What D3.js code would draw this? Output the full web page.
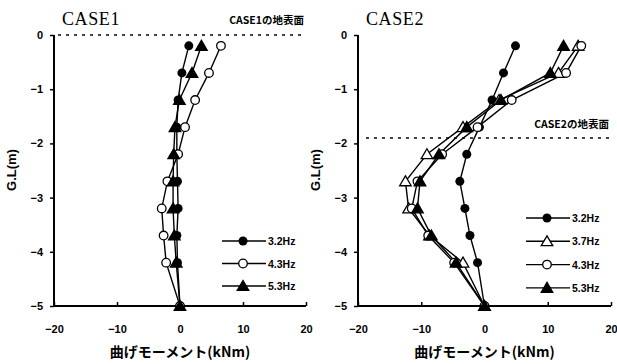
<!DOCTYPE html>
<html><head><meta charset="utf-8">
<script src="https://cdn.jsdelivr.net/npm/d3@7"></script>
<style>body{margin:0;background:#fff}svg{display:block}</style>
</head><body><svg id="c" width="617" height="364"></svg>
<script>
const depths = [-0.2,-0.7,-1.2,-1.7,-2.2,-2.7,-3.2,-3.7,-4.2,-5.0];
const case1_32 = [1.4,0.3,-0.3,-0.5,-0.5,-0.4,-0.3,-0.5,-0.4,0];
const case1_43 = [6.5,4.6,2.4,0.8,-0.3,-2.0,-2.9,-2.6,-2.2,0];
const case1_53 = [3.4,1.9,-0.1,-0.8,-1.0,-1.1,-1.1,-0.9,-0.6,0];
const case2_32 = [4.9,3.0,1.2,-0.8,-2.8,-3.9,-3.1,-2.3,-1.1,0];
const case2_37 = [14.8,11.7,2.3,-3.4,-9.1,-12.5,-12.0,-8.7,-3.4,0];
const case2_43 = [15.3,12.9,4.3,-1.1,-6.7,-10.6,-11.5,-8.9,-4.8,0];
const case2_53 = [12.5,10.4,2.6,-2.8,-7.2,-10.2,-10.6,-8.4,-4.5,0];
const xTicks = [-20,-10,0,10,20];
const yTicks = [0,-1,-2,-3,-4,-5];
const labels1 = ["3.2Hz","4.3Hz","5.3Hz"];
const labels2 = ["3.2Hz","3.7Hz","4.3Hz","5.3Hz"];
const xTitle = "曲げモーメント(kNm)";
const yTitle = "G.L(m)";

const svg = d3.select("#c");
const sans = "'Liberation Sans', Arial, sans-serif";
const jp = "'Noto Sans CJK JP', sans-serif";

function marker(g, type, x, y) {
  if (type === "fc") g.append("circle").attr("cx",x).attr("cy",y).attr("r",4.5).attr("fill","#000");
  else if (type === "oc") g.append("circle").attr("cx",x).attr("cy",y).attr("r",4.3).attr("fill","#fff").attr("stroke","#000").attr("stroke-width",1.3);
  else {
    const s = 5.5;
    const p = `M${x},${y-s}L${x+s*1.05},${y+s*0.8}L${x-s*1.05},${y+s*0.8}Z`;
    g.append("path").attr("d",p).attr("fill", type==="ft"?"#000":"#fff").attr("stroke","#000").attr("stroke-width",1.3);
  }
}

function panel(opt) {
  const x = d3.scaleLinear().domain([-20,20]).range([opt.x0, opt.x1]);
  const y = d3.scaleLinear().domain([0,-5]).range([35,306]);
  const g = svg.append("g");
  const ax = g.append("g").attr("transform",`translate(0,306)`)
    .call(d3.axisBottom(x).tickValues(xTicks).tickSize(-4).tickPadding(19).tickFormat(d=>d<0?"\u2212"+(-d):d));
  const ay = g.append("g").attr("transform",`translate(${opt.x0},0)`)
    .call(d3.axisLeft(y).tickValues(yTicks).tickSize(4).tickPadding(7).tickFormat(d=>d<0?"\u2212"+(-d):d));
  [ax,ay].forEach(a=>{
    a.select(".domain").attr("stroke","#000").attr("stroke-width",2);
    a.selectAll(".tick line").attr("stroke","#000").attr("stroke-width",1.5);
    a.selectAll("text").attr("font-family",sans).attr("font-weight","bold").attr("font-size",11).attr("fill","#000");
  });
  ax.select(".domain").attr("d",`M${opt.x0},0H${opt.x1}`);
  ay.select(".domain").attr("d",`M0,35V306`);
  g.append("line").attr("x1",opt.gx0).attr("x2",opt.x1).attr("y1",y(opt.ground)).attr("y2",y(opt.ground))
    .attr("stroke","#000").attr("stroke-width",1.5).attr("stroke-dasharray","3,5");
  g.append("text").attr("x",opt.x1-2).attr("y",y(opt.ground)-opt.gdy).attr("text-anchor","end")
    .attr("font-family",jp).attr("font-weight","bold").attr("font-size",10.5).text(opt.gtext);
  g.append("text").attr("x",opt.x0+8).attr("y",25).attr("font-family","'Liberation Serif', serif")
    .attr("font-size",18).attr("letter-spacing",0.6).text(opt.title);
  g.append("text").attr("x",(opt.x0+opt.x1)/2).attr("y",357).attr("text-anchor","middle")
    .attr("font-family",jp).attr("font-weight","bold").attr("font-size",14).text(xTitle);
  g.append("text").attr("transform",`translate(${opt.x0-38},170) rotate(-90)`).attr("text-anchor","middle")
    .attr("font-family",sans).attr("font-weight","bold").attr("font-size",13).text(yTitle);
  const line = d3.line().x(d=>x(d[0])).y(d=>y(d[1]));
  opt.series.forEach(s=>{
    const pts = s.v.map((v,i)=>[v,depths[i]]);
    g.append("path").attr("d",line(pts)).attr("fill","none").attr("stroke","#000").attr("stroke-width",1.4);
  });
  opt.series.forEach(s=>{
    s.v.forEach((v,i)=>marker(g,s.m,x(v),y(depths[i])));
  });
  opt.series.forEach((s,i)=>{
    const ly = opt.ly0 + i*opt.ldy;
    g.append("line").attr("x1",opt.lx).attr("x2",opt.lx+44).attr("y1",ly).attr("y2",ly).attr("stroke","#000").attr("stroke-width",1.4);
    marker(g,s.m,opt.lx+21,ly);
    g.append("text").attr("x",opt.lx+46).attr("y",ly+4).attr("font-family",sans).attr("font-weight","bold")
      .attr("font-size",10.5).text(s.label);
  });
}

panel({x0:54,x1:306,gx0:58,ground:0,gdy:11,gtext:"CASE1の地表面",title:"CASE1",lx:222,ly0:241,ldy:22.5,
  series:[{v:case1_32,m:"fc",label:labels1[0]},{v:case1_43,m:"oc",label:labels1[1]},{v:case1_53,m:"ft",label:labels1[2]}]});
panel({x0:358,x1:611,gx0:366,ground:-1.9,gdy:10,gtext:"CASE2の地表面",title:"CASE2",lx:526,ly0:218,ldy:23.3,
  series:[{v:case2_32,m:"fc",label:labels2[0]},{v:case2_37,m:"ot",label:labels2[1]},{v:case2_43,m:"oc",label:labels2[2]},{v:case2_53,m:"ft",label:labels2[3]}]});
</script></body></html>
